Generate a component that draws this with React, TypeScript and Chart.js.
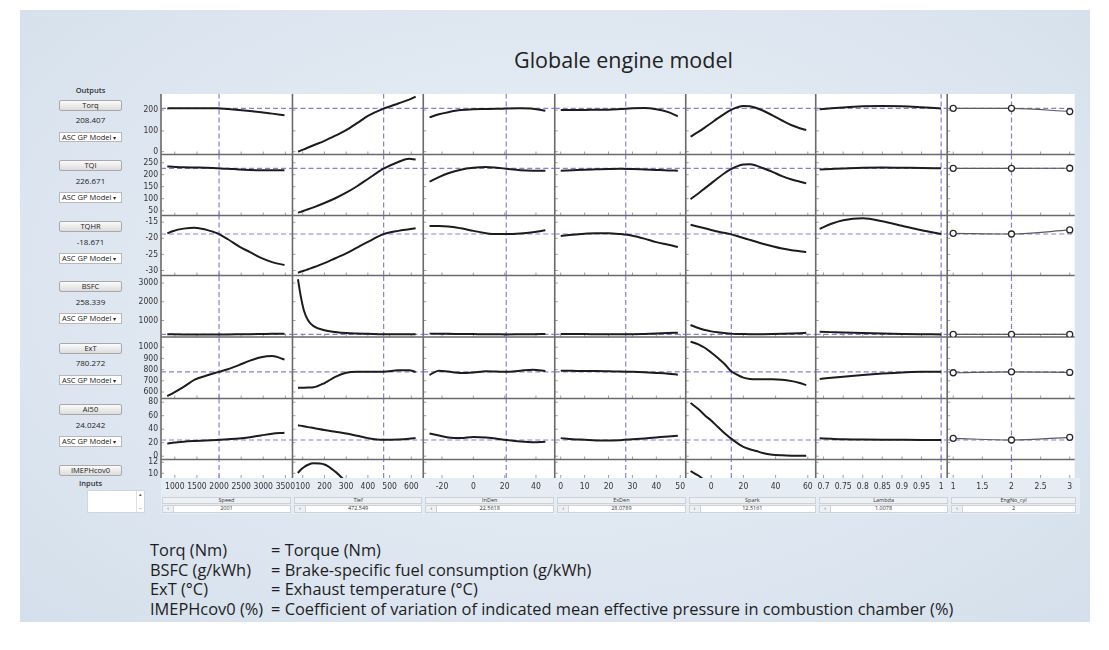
import React, { useEffect, useRef } from 'react';
import { Chart, registerables } from 'chart.js';

Chart.register(...registerables);

// ---------- texts ----------
const TITLE = 'Globale engine model';
const OUTPUT_NAMES = ['Torq', 'TQI', 'TQHR', 'BSFC', 'ExT', 'AI50', 'IMEPHcov0'];
const OUTPUT_TEXT = ['208.407', '226.671', '-18.671', '258.339', '780.272', '24.0242'];
const INPUT_NAMES = ['Speed', 'Tlef', 'InDen', 'ExDen', 'Spark', 'Lambda', 'EngNo_cyl'];
const INPUT_TEXT = ['2001', '472.549', '22.5618', '28.0789', '12.5161', '1.0078', '2'];
const LEGEND_KEYS = ['Torq (Nm)', 'BSFC (g/kWh)', 'ExT (°C)', 'IMEPHcov0 (%)'];
const LEGEND_TEXT = [
  'Torque (Nm)',
  'Brake-specific fuel consumption (g/kWh)',
  'Exhaust temperature (°C)',
  'Coefficient of variation of indicated mean effective pressure in combustion chamber (%)',
];

// ---------- current operating point (cross-hairs) ----------
const CUR_IN = [2001, 472.549, 21, 27.2, 12.5, 1.0, 2];
const CUR_OUT = [208.407, 226.671, -18.671, 258.339, 780.272, 24.0242];

// ---------- axes ----------
const X_MIN = [688, 52.8, -32, -2.5, -15.8, 0.68, 0.897];
const X_MAX = [3661, 655, 52, 52.3, 64.9, 1.0155, 3.085];
const X_TICKS = [
  [1000, 1500, 2000, 2500, 3000, 3500],
  [100, 200, 300, 400, 500, 600],
  [-20, 0, 20, 40],
  [0, 10, 20, 30, 40, 50],
  [0, 20, 40, 60],
  [0.7, 0.75, 0.8, 0.85, 0.9, 0.95, 1],
  [1, 1.5, 2, 2.5, 3],
];
const Y_MIN = [-13.5, 30, -31.56, 120, 542, -4.87, 9.15];
const Y_MAX = [277.4, 284.2, -12.92, 3400, 1091, 85.5, 12.5];
const Y_TICKS = [
  [0, 100, 200],
  [50, 100, 150, 200, 250],
  [-30, -25, -20, -15],
  [1000, 2000, 3000],
  [600, 700, 800, 900, 1000],
  [0, 20, 40, 60, 80],
  [10, 12],
];

// ---------- input grids ----------
const SPEED = [830, 950, 1200, 1450, 1700, 1950, 2200, 2450, 2700, 2950, 3200, 3480];
const TLEF = [78, 90, 105, 125, 150, 200, 250, 300, 350, 400, 470, 540, 590, 620];
const INDEN = [-28, -22, -16, -8, 0, 8, 15, 21, 30, 38, 46];
const EXDEN = [0, 5, 10, 15, 20, 25, 30, 35, 40, 45, 49];
const SPARK = [-12.8, -8, -4, 0, 4, 8, 12, 16, 20, 24, 28, 32, 38, 44, 50, 55, 59];
const LAMBDA = [0.69, 0.72, 0.75, 0.8, 0.85, 0.9, 0.95, 1.0];
const ENGNO = [1, 2, 3];

// ---------- responses: Speed ----------
const TORQ_SPEED = [208, 209, 209, 209, 209, 208.5, 205, 201, 196, 190, 183, 175];
const TQI_SPEED = [234, 233, 231, 230, 229, 227, 225, 222, 220, 219, 219, 219];
const TQHR_SPEED = [-18.45, -17.8, -17.0, -16.7, -17.3, -18.4, -20.3, -22.5, -24.3, -26.1, -27.4, -28.3];
const BSFC_SPEED = [262, 261, 260, 259, 259, 258, 259, 262, 266, 278, 292, 300];
const EXT_SPEED = [563, 588, 645, 710, 745, 775, 803, 840, 880, 910, 921, 890];
const AI50_SPEED = [19, 20, 21.5, 22.5, 23.3, 24.2, 25.2, 26.3, 28.2, 30.8, 33.3, 34.8];

// ---------- responses: Tlef ----------
const TORQ_TLEF = [0, 5, 11, 20, 31, 52, 77, 104, 137, 172, 206, 232, 250, 265];
const TQI_TLEF = [42, 45, 50, 56, 64, 82, 102, 125, 152, 182, 224, 253, 267, 263];
const TQHR_TLEF = [-30.7, -30.4, -30.1, -29.6, -29.0, -27.7, -26.2, -24.7, -22.9, -21.1, -18.8, -17.7, -17.2, -16.9];
const BSFC_TLEF = [3200, 2350, 1550, 1000, 700, 480, 390, 330, 305, 290, 262, 262, 264, 265];
const EXT_TLEF = [638, 638, 639, 640, 642, 680, 735, 772, 781, 781, 781, 794, 795, 778];
const AI50_TLEF = [45.8, 45.3, 44.3, 43.1, 41.8, 38.8, 36.3, 33.8, 30.3, 26.8, 24.3, 24.8, 25.8, 26.8];
const IMEPH_TLEF = [10.05, 10.6, 11.1, 11.55, 11.8, 11.6, 10.3, 8.4, 6.5, null, null, null, null, null];

// ---------- responses: InDen ----------
const TORQ_INDEN = [165, 180, 190, 200, 204, 205, 206, 208, 209, 207, 197];
const TQI_INDEN = [171, 190, 206, 221, 229, 232, 229, 225, 219, 217, 217];
const TQHR_INDEN = [-16.2, -16.2, -16.3, -16.9, -17.7, -18.4, -18.7, -18.7, -18.5, -18.1, -17.5];
const BSFC_INDEN = [300, 295, 290, 282, 275, 268, 264, 259, 265, 272, 280];
const EXT_INDEN = [752, 790, 782, 770, 775, 785, 782, 780, 790, 798, 788];
const AI50_INDEN = [33.8, 30.8, 27.8, 26.8, 28.3, 27.8, 25.8, 24, 21.8, 20.8, 21.3];

// ---------- responses: ExDen ----------
const TORQ_EXDEN = [201, 201, 201, 202, 202, 205, 209, 210, 204, 190, 170];
const TQI_EXDEN = [217, 219, 221, 222.5, 224, 225, 224, 222, 220, 218, 217];
const TQHR_EXDEN = [-19.3, -18.9, -18.6, -18.4, -18.4, -18.7, -19.2, -20.1, -21.2, -22.0, -22.7];
const BSFC_EXDEN = [280, 277, 274, 271, 268, 262, 268, 285, 305, 328, 350];
const EXT_EXDEN = [790, 789, 788, 788, 786, 782, 780, 776, 770, 763, 755];
const AI50_EXDEN = [26.8, 25.3, 24.3, 23.3, 23.1, 23.8, 25, 26.3, 27.8, 29.3, 30.4];

// ---------- responses: Spark ----------
const TORQ_SPARK = [72, 95, 116, 138, 160, 181, 200, 213, 220, 219, 210, 198, 175, 150, 127, 113, 104];
const TQI_SPARK = [98, 122, 143, 164, 185, 205, 222, 235, 243, 244, 238, 228, 212, 194, 180, 171, 164];
const TQHR_SPARK = [-15.8, -16.4, -16.9, -17.4, -17.9, -18.3, -18.7, -19.3, -19.9, -20.5, -21.1, -21.7, -22.5, -23.2, -23.7, -24.0, -24.3];
const BSFC_SPARK = [760, 600, 490, 420, 370, 335, 300, 285, 278, 272, 270, 270, 275, 288, 305, 325, 345];
const EXT_SPARK = [1050, 1025, 995, 952, 905, 855, 790, 755, 728, 716, 713, 713, 713, 710, 697, 680, 662];
const AI50_SPARK = [78.8, 69.8, 60.8, 52.8, 43.8, 34.8, 26.8, 19.8, 13.8, 10.3, 7.8, 4.8, 2.3, 1.3, 0.8, 0.6, 0.5];
const IMEPH_SPARK = [10.4, 9.6, 8.7, 7.8, null, null, null, null, null, null, null, null, null, null, null, null, null];

// ---------- responses: Lambda ----------
const TORQ_LAMBDA = [204, 209, 213, 218, 220, 219, 214, 208];
const TQI_LAMBDA = [222, 224, 226, 229, 230, 229, 228, 226.7];
const TQHR_LAMBDA = [-17.1, -15.5, -14.4, -13.8, -14.7, -16.1, -17.5, -18.7];
const BSFC_LAMBDA = [400, 380, 360, 330, 305, 285, 270, 258];
const EXT_LAMBDA = [716, 727, 737, 752, 765, 775, 780, 781];
const AI50_LAMBDA = [26.5, 25.8, 25.2, 24.8, 24.5, 24.3, 24.1, 24.0];

// ---------- responses: EngNo_cyl ----------
const TORQ_ENG = [208.4, 208.4, 193];
const TQI_ENG = [226.7, 226.7, 227];
const TQHR_ENG = [-18.45, -18.67, -17.4];
const BSFC_ENG = [258, 258.3, 260];
const EXT_ENG = [772, 780.3, 775];
const AI50_ENG = [26.5, 24.02, 28];

const COL_X = [SPEED, TLEF, INDEN, EXDEN, SPARK, LAMBDA, ENGNO];
const CELL_Y: (Array<number | null> | null)[][] = [
  [TORQ_SPEED, TQI_SPEED, TQHR_SPEED, BSFC_SPEED, EXT_SPEED, AI50_SPEED, null],
  [TORQ_TLEF, TQI_TLEF, TQHR_TLEF, BSFC_TLEF, EXT_TLEF, AI50_TLEF, IMEPH_TLEF],
  [TORQ_INDEN, TQI_INDEN, TQHR_INDEN, BSFC_INDEN, EXT_INDEN, AI50_INDEN, null],
  [TORQ_EXDEN, TQI_EXDEN, TQHR_EXDEN, BSFC_EXDEN, EXT_EXDEN, AI50_EXDEN, null],
  [TORQ_SPARK, TQI_SPARK, TQHR_SPARK, BSFC_SPARK, EXT_SPARK, AI50_SPARK, IMEPH_SPARK],
  [TORQ_LAMBDA, TQI_LAMBDA, TQHR_LAMBDA, BSFC_LAMBDA, EXT_LAMBDA, AI50_LAMBDA, null],
  [TORQ_ENG, TQI_ENG, TQHR_ENG, BSFC_ENG, EXT_ENG, AI50_ENG, null],
];

// ---------- layout ----------
const CANVAS_LEFT = 125;
const CANVAS_TOP = 88;
const CANVAS_W = 955;
const CANVAS_H = 412;
const Y_AXIS_W = 36;
const X_AXIS_H = 22;
const PAD_TOP = 6;
const PAD_RIGHT = 2;
const COL_W = [132, 131.3, 132, 131.5, 130.5, 132, 128];
const ROW_H = [60.5, 61, 60, 61.5, 61.5, 61, 18.5];
const PLOT_LEFT = CANVAS_LEFT + Y_AXIS_W;
const PLOT_TOP = CANVAS_TOP + PAD_TOP;
const PLOT_W = CANVAS_W - Y_AXIS_W - PAD_RIGHT;
const PLOT_H = CANVAS_H - PAD_TOP - X_AXIS_H;
const sumW = COL_W.reduce((a, b) => a + b, 0);
const sumH = ROW_H.reduce((a, b) => a + b, 0);
const COL_LEFT = COL_W.map((_, i) => PLOT_LEFT + (COL_W.slice(0, i).reduce((a, b) => a + b, 0) / sumW) * PLOT_W);
const COL_WIDTH = COL_W.map((w) => (w / sumW) * PLOT_W);
const ROW_TOP = ROW_H.map((_, i) => PLOT_TOP + (ROW_H.slice(0, i).reduce((a, b) => a + b, 0) / sumH) * PLOT_H);

const TICK_FONT = "'Liberation Sans Narrow', 'DejaVu Sans Condensed', Roboto, sans-serif";
const UI_FONT = "'Open Sans', 'Noto Sans', sans-serif";
const CURVE = '#1c1c1c';
const CROSS = 'rgba(128, 110, 210, 0.9)';

const framePlugin = {
  id: 'cellFrames',
  beforeDraw(chart: any) {
    const { ctx, chartArea: a } = chart;
    ctx.save();
    ctx.fillStyle = '#ffffff';
    ctx.fillRect(a.left, a.top, a.right - a.left, a.bottom - a.top);
    ctx.restore();
  },
  beforeDatasetsDraw(chart: any) {
    const { ctx, chartArea: a } = chart;
    const xs = COL_X.map((_, c) => chart.scales['x' + c]);
    const ys = ROW_H.map((_, r) => chart.scales['y' + r]);
    ctx.save();
    ctx.strokeStyle = '#a0a0a0';
    ctx.lineWidth = 1;
    ctx.beginPath();
    xs.forEach((sx: any) =>
      sx.ticks.forEach((t: any) => {
        const px = sx.getPixelForValue(t.value);
        ys.forEach((sy: any) => {
          ctx.moveTo(px, sy.bottom);
          ctx.lineTo(px, sy.bottom - 3);
        });
      })
    );
    ys.forEach((sy: any) =>
      sy.ticks.forEach((t: any) => {
        const py = sy.getPixelForValue(t.value);
        xs.forEach((sx: any) => {
          ctx.moveTo(sx.left, py);
          ctx.lineTo(sx.left + 3, py);
        });
      })
    );
    ctx.stroke();
    ctx.strokeStyle = '#6a6a6a';
    ctx.lineWidth = 1.6;
    ctx.beginPath();
    ys.forEach((sy: any, r: number) => {
      if (r < ys.length - 1) {
        ctx.moveTo(a.left, sy.bottom);
        ctx.lineTo(a.right, sy.bottom);
      }
    });
    xs.forEach((sx: any) => {
      ctx.moveTo(sx.left, a.top);
      ctx.lineTo(sx.left, a.bottom);
    });
    ctx.stroke();
    ctx.restore();
  },
  beforeDatasetDraw(chart: any, args: any) {
    const m = args.meta;
    const { ctx } = chart;
    ctx.save();
    ctx.beginPath();
    ctx.rect(m.xScale.left, m.yScale.top, m.xScale.right - m.xScale.left, m.yScale.bottom - m.yScale.top);
    ctx.clip();
  },
  afterDatasetDraw(chart: any) {
    chart.ctx.restore();
  },
};

function buildDatasets() {
  const ds: any[] = [];
  COL_X.forEach((xs, c) => {
    CELL_Y[c].forEach((ys, r) => {
      if (!ys) return;
      const isDiscrete = c === 6;
      ds.push({
        data: xs.map((x, i) => ({ x, y: ys[i] })),
        xAxisID: 'x' + c,
        yAxisID: 'y' + r,
        borderColor: isDiscrete ? '#5a5a5a' : CURVE,
        borderWidth: isDiscrete ? 1.2 : 2,
        cubicInterpolationMode: 'monotone',
        tension: 0,
        pointRadius: isDiscrete ? 3 : 0,
        pointBorderWidth: 1.3,
        pointBorderColor: '#2a2a2a',
        pointBackgroundColor: '#ffffff',
        spanGaps: false,
        order: 0,
      });
    });
  });
  // vertical cross-hairs at the current inputs
  COL_X.forEach((_, c) => {
    ROW_H.forEach((__, r) => {
      ds.push({
        data: [
          { x: CUR_IN[c], y: Y_MIN[r] },
          { x: CUR_IN[c], y: Y_MAX[r] },
        ],
        xAxisID: 'x' + c,
        yAxisID: 'y' + r,
        borderColor: CROSS,
        borderWidth: 1.2,
        borderDash: [5, 3],
        pointRadius: 0,
        order: 1,
      });
    });
  });
  // horizontal cross-hairs at the current outputs
  CUR_OUT.forEach((v, r) => {
    COL_X.forEach((_, c) => {
      ds.push({
        data: [
          { x: X_MIN[c], y: v },
          { x: X_MAX[c], y: v },
        ],
        xAxisID: 'x' + c,
        yAxisID: 'y' + r,
        borderColor: CROSS,
        borderWidth: 1.2,
        borderDash: [5, 3],
        pointRadius: 0,
        order: 1,
      });
    });
  });
  return ds;
}

function buildScales() {
  const scales: any = {};
  COL_X.forEach((_, c) => {
    scales['x' + c] = {
      type: 'linear',
      position: 'bottom',
      stack: 'cols',
      stackWeight: COL_W[c],
      weight: c,
      min: X_MIN[c],
      max: X_MAX[c],
      grid: { display: false, drawTicks: false },
      border: { display: false },
      afterBuildTicks: (s: any) => {
        s.ticks = X_TICKS[c].map((value) => ({ value }));
      },
      afterFit: (s: any) => {
        s.height = X_AXIS_H;
        s.paddingLeft = 0;
        s.paddingRight = 0;
      },
      ticks: {
        autoSkip: false,
        maxRotation: 0,
        minRotation: 0,
        padding: 4,
        color: '#333',
        font: { family: TICK_FONT, size: 8.5 },
        callback: (v: any) => String(v),
      },
    };
  });
  ROW_H.forEach((_, r) => {
    scales['y' + r] = {
      type: 'linear',
      position: 'left',
      stack: 'rows',
      stackWeight: ROW_H[r],
      weight: 10 - r,
      min: Y_MIN[r],
      max: Y_MAX[r],
      grid: { display: false, drawTicks: false },
      border: { display: false },
      afterBuildTicks: (s: any) => {
        s.ticks = Y_TICKS[r].map((value) => ({ value }));
      },
      afterFit: (s: any) => {
        s.width = Y_AXIS_W;
        s.paddingTop = 0;
        s.paddingBottom = 0;
      },
      ticks: {
        autoSkip: false,
        padding: 3,
        color: '#333',
        font: { family: TICK_FONT, size: 8.5 },
        callback: (v: any) => String(v),
      },
    };
  });
  return scales;
}

const btnStyle: React.CSSProperties = {
  position: 'absolute',
  left: 59,
  width: 63,
  height: 11,
  boxSizing: 'border-box',
  border: '1px solid #a9a9a9',
  borderRadius: 2,
  background: 'linear-gradient(#fbfbfb, #dcdcdc)',
  fontSize: 7.5,
  lineHeight: '9px',
  textAlign: 'center',
  color: '#222',
};
const ddStyle: React.CSSProperties = {
  position: 'absolute',
  left: 59,
  width: 63,
  height: 10.5,
  boxSizing: 'border-box',
  border: '1px solid #b8b8b8',
  background: '#ffffff',
  fontSize: 7.5,
  lineHeight: '8.5px',
  paddingLeft: 2,
  color: '#222',
  whiteSpace: 'nowrap',
};

export default function App() {
  const ref = useRef<HTMLCanvasElement>(null);
  useEffect(() => {
    const chart = new Chart(ref.current as HTMLCanvasElement, {
      type: 'line',
      data: { datasets: buildDatasets() },
      options: {
        animation: false,
        responsive: false,
        events: [],
        layout: { padding: { top: PAD_TOP, right: PAD_RIGHT, left: 0, bottom: 0 } },
        plugins: { legend: { display: false }, tooltip: { enabled: false }, title: { display: false } },
        scales: buildScales(),
      } as any,
      plugins: [framePlugin as any],
    });
    return () => chart.destroy();
  }, []);

  return (
    <div
      style={{
        position: 'absolute',
        left: 0,
        top: 0,
        width: 1109,
        height: 650,
        background: '#ffffff',
        overflow: 'hidden',
        fontFamily: UI_FONT,
      }}
    >
      <div
        style={{
          position: 'absolute',
          left: 20,
          top: 10,
          width: 1070,
          height: 612,
          background: 'radial-gradient(ellipse at 50% 45%, #e9eff7 0%, #dde6f0 65%, #d4dfeb 100%)',
        }}
      />
      <div
        style={{
          position: 'absolute',
          left: PLOT_LEFT,
          top: PLOT_TOP + PLOT_H,
          width: PLOT_W + 2,
          height: 36,
          background: '#e6ecf4',
        }}
      />
      <div
        style={{
          position: 'absolute',
          left: PLOT_LEFT + PLOT_W / 2 - 246,
          width: 500,
          top: 45,
          textAlign: 'center',
          fontSize: 21.5,
          color: '#222',
        }}
      >
        {TITLE}
      </div>

      {/* outputs panel */}
      <div style={{ position: 'absolute', left: 59, width: 63, top: 85, fontSize: 7.5, textAlign: 'center', color: '#333', fontWeight: 600 }}>
        Outputs
      </div>
      {OUTPUT_NAMES.map((name, r) => (
        <React.Fragment key={name}>
          <div style={{ ...btnStyle, top: ROW_TOP[r] + 5.5 }}>{name}</div>
          {r < OUTPUT_TEXT.length && (
            <>
              <div style={{ position: 'absolute', left: 59, width: 63, top: ROW_TOP[r] + 20, fontSize: 8, textAlign: 'center', color: '#222' }}>
                {OUTPUT_TEXT[r]}
              </div>
              <div style={{ ...ddStyle, top: ROW_TOP[r] + 37.5 }}>
                ASC GP Model <span style={{ fontSize: 6 }}>▾</span>
              </div>
            </>
          )}
        </React.Fragment>
      ))}
      <div style={{ position: 'absolute', left: 59, width: 63, top: 478, fontSize: 7.5, textAlign: 'center', color: '#333', fontWeight: 600 }}>
        Inputs
      </div>
      <div style={{ position: 'absolute', left: 87, top: 490, width: 58, height: 23, background: '#fff', border: '1px solid #cfd6de', boxSizing: 'border-box' }}>
        <div style={{ position: 'absolute', right: 0, top: 0, width: 7, height: 21, borderLeft: '1px solid #e0e0e0', fontSize: 5, lineHeight: '7px', textAlign: 'center', color: '#555' }}>
          ▴<br />
          <br />–
        </div>
      </div>

      {/* input strips */}
      {INPUT_NAMES.map((name, c) => (
        <React.Fragment key={name}>
          <div
            style={{
              position: 'absolute',
              left: COL_LEFT[c] + 1,
              width: COL_WIDTH[c] - 3,
              top: 496.5,
              height: 7,
              boxSizing: 'border-box',
              border: '1px solid #cdd2d8',
              background: '#eef0f3',
              fontSize: 5.5,
              lineHeight: '5px',
              textAlign: 'center',
              color: '#333',
            }}
          >
            {name}
          </div>
          <div
            style={{
              position: 'absolute',
              left: COL_LEFT[c] + 1,
              width: COL_WIDTH[c] - 3,
              top: 505,
              height: 7.5,
              boxSizing: 'border-box',
              border: '1px solid #cdd2d8',
              background: '#ffffff',
              fontSize: 5.5,
              lineHeight: '5.5px',
              textAlign: 'center',
              color: '#333',
            }}
          >
            <div style={{ position: 'absolute', left: 0, top: 0, width: 10, height: 5.5, borderRight: '1px solid #cdd2d8', background: '#eef0f3', fontSize: 5 }}>
              ‹
            </div>
            {INPUT_TEXT[c]}
          </div>
        </React.Fragment>
      ))}

      <canvas
        ref={ref}
        width={CANVAS_W}
        height={CANVAS_H}
        style={{ position: 'absolute', left: CANVAS_LEFT, top: CANVAS_TOP, width: CANVAS_W, height: CANVAS_H }}
      />

      {/* legend text */}
      <div style={{ position: 'absolute', left: 150, top: 540, fontSize: 16.4, lineHeight: '19.7px', color: '#1e1e1e' }}>
        {LEGEND_KEYS.map((k, i) => (
          <div key={k} style={{ display: 'flex', whiteSpace: 'nowrap' }}>
            <span style={{ width: 121, display: 'inline-block' }}>{k}</span>
            <span>= {LEGEND_TEXT[i]}</span>
          </div>
        ))}
      </div>
    </div>
  );
}
